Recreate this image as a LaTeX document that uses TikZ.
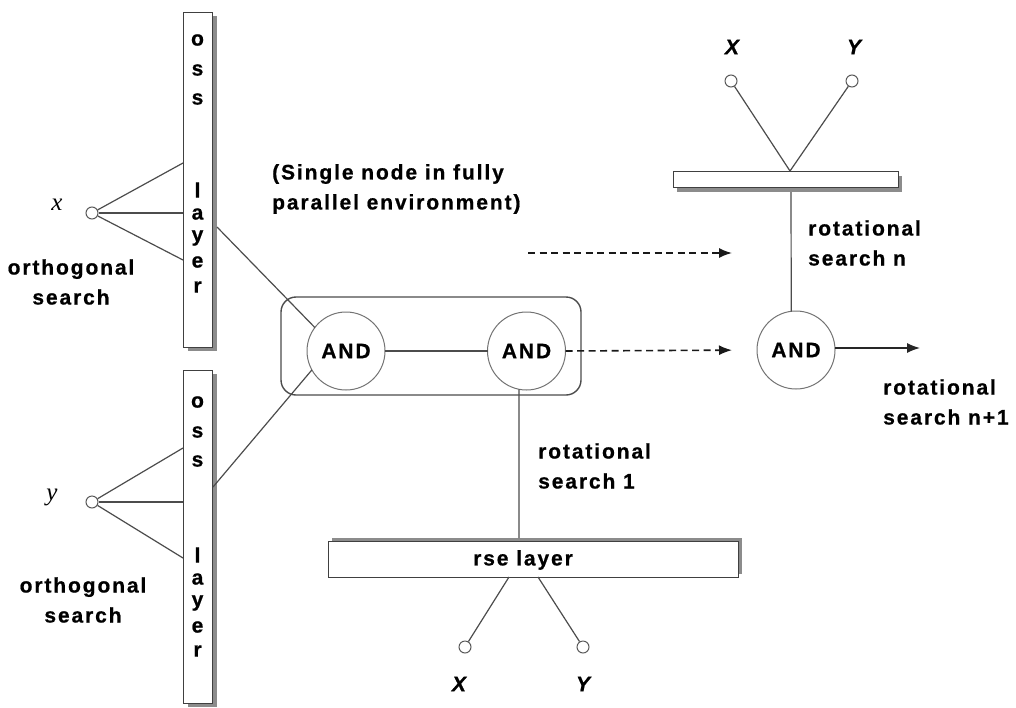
\documentclass[tikz,border=0pt]{standalone}
\usepackage{fontspec}
\setmainfont{Liberation Sans}
\newfontfamily\lblfam{Liberation Sans}[LetterSpace=9,
  BoldFeatures={FakeBold=0.7}, BoldItalicFeatures={FakeBold=0.7}]
\newfontfamily\serfam{Liberation Serif}
\usetikzlibrary{arrows.meta,shadows}

\tikzset{
  wire/.style={draw=black!70, line width=1.2pt},
  dashwire/.style={draw=black!90, line width=1.6pt, dash pattern=on 7pt off 4.5pt,
                   -{Latex[length=13pt,width=10pt]}},
  arrowwire/.style={draw=black!85, line width=1.4pt, -{Latex[length=13pt,width=10pt]}},
  lbl/.style={font=\lblfam\bfseries\fontsize{21}{30}\selectfont, inner sep=0pt, align=left, text=black},
  clbl/.style={lbl, align=center},
  varlbl/.style={font=\serfam\itshape\fontsize{25}{25}\selectfont, inner sep=0pt},
  inlbl/.style={font=\lblfam\bfseries\itshape\fontsize{21}{21}\selectfont, inner sep=0pt},
  andnode/.style={circle, draw=black!55, line width=1pt, fill=white, minimum size=78pt,
                  inner sep=0pt, outer sep=0pt, font=\lblfam\bfseries\fontsize{21}{21}\selectfont},
  innode/.style={circle, draw=black!65, line width=1pt, fill=white, minimum size=12pt, inner sep=0pt},
  layerbar/.style={rectangle, draw=black!75, line width=1pt, fill=white, inner sep=0pt, outer sep=0pt},
  barletter/.style={font=\lblfam\bfseries\fontsize{21}{21}\selectfont, inner sep=0pt},
  group/.style={rectangle, rounded corners=15pt, draw=black!70, line width=1.4pt,
                minimum width=300pt, minimum height=98pt, inner sep=0pt}
}

\begin{document}
\begin{tikzpicture}[x=1pt, y=-1pt]
\useasboundingbox (0,0) rectangle (1016,707);

% ---- orthogonal search layers (vertical bars) ----
\node[layerbar, minimum width=29pt, minimum height=335pt,
      drop shadow={shadow xshift=5pt, shadow yshift=-4pt, fill=black!45, opacity=1}]
      (ossA) at (197.5,179.5) {};
\node[layerbar, minimum width=29pt, minimum height=333pt,
      drop shadow={shadow xshift=5pt, shadow yshift=-4pt, fill=black!45, opacity=1}]
      (ossB) at (197.5,536.5) {};
\foreach \l/\yy [count=\i] in {o/40, s/70, s/99, l/190, a/214, y/238, e/262, r/287}
  \node[barletter] (ossAl\i) at (197.5,\yy) {\l};
\foreach \l/\yy [count=\i] in {o/402, s/432, s/461, l/555, a/579, y/603, e/627, r/651}
  \node[barletter] (ossBl\i) at (197.5,\yy) {\l};

% ---- inputs of the orthogonal layers ----
\node[innode] (xin) at (92,213) {};
\node[innode] (yin) at (92,502) {};
\node[varlbl] (xlab) at (57,205) {x};
\node[varlbl] (ylab) at (52,497) {y};
\coordinate (ossA1) at (183,163);
\coordinate (ossA2) at (183,213);
\coordinate (ossA3) at (183,260);
\coordinate (ossB1) at (183,448);
\coordinate (ossB2) at (183,502);
\coordinate (ossB3) at (183,558);
\draw[wire] (xin) -- (ossA1);
\draw[wire] (xin) -- (ossA2);
\draw[wire] (xin) -- (ossA3);
\draw[wire] (yin) -- (ossB1);
\draw[wire] (yin) -- (ossB2);
\draw[wire] (yin) -- (ossB3);
\node[clbl] (orthA) at (71,282) {orthogonal\\search};
\node[clbl] (orthB) at (83,600) {orthogonal\\search};

% ---- single node group ----
\node[group] (grp) at (431,346) {};
\node[andnode] (and1) at (346,351) {AND};
\node[andnode] (and2) at (526.5,351) {AND};
\node[lbl, anchor=west] (single) at (272,189) {(Single node in fully\\parallel environment)};
\coordinate (ossAout) at (217,227);
\coordinate (ossBout) at (213,487);
\draw[wire] (ossAout) -- (and1.143);
\draw[wire] (ossBout) -- (and1.209);
\draw[wire] (and1) -- (and2);

% ---- rotational search layer n ----
\node[andnode] (and3) at (796,350) {AND};
\node[layerbar, minimum width=225pt, minimum height=16pt,
      drop shadow={shadow xshift=4pt, shadow yshift=-5pt, fill=black!45, opacity=1}]
      (topbar) at (785.5,179) {};
\node[innode] (xt) at (731,81) {};
\node[innode] (yt) at (852,81) {};
\node[inlbl] (xtlab) at (732,47) {X};
\node[inlbl] (ytlab) at (854,47) {Y};
\coordinate (tbin) at (790,171);
\coordinate (tbout) at (791,192);
\draw[wire] (xt) -- (tbin);
\draw[wire] (yt) -- (tbin);
\draw[wire] (tbout) -- (and3.97);
\node[lbl, anchor=west] (rsn) at (808,243) {rotational\\search n};

\coordinate (dashstart) at (528,253);
\coordinate (dashend) at (732,253);
\draw[dashwire] (dashstart) -- (dashend);
\draw[dashwire, shorten >=25pt] (and2.east) -- (and3.west);

\coordinate (outend) at (920,348);
\draw[arrowwire] (and3.east |- outend) -- (outend);
\node[lbl, anchor=west] (rsn1) at (883,402) {rotational\\search n+1};

% ---- rotational search layer 1 ----
\node[layerbar, minimum width=410pt, minimum height=36pt,
      drop shadow={shadow xshift=4pt, shadow yshift=3pt, fill=black!45, opacity=1}]
      (rsebar) at (533,559) {};
\node[lbl] (rsetxt) at (523,560) {rse layer};
\coordinate (rsetop) at (519,538);
\draw[wire] (and2.259) -- (rsetop);
\node[lbl, anchor=west] (rs1) at (538,466) {rotational\\search 1};
\node[innode] (xb) at (465,647) {};
\node[innode] (yb) at (583,647) {};
\node[inlbl] (xblab) at (459,684) {X};
\node[inlbl] (yblab) at (583,684) {Y};
\coordinate (rseo1) at (509,577);
\coordinate (rseo2) at (538,577);
\draw[wire] (rseo1) -- (xb);
\draw[wire] (rseo2) -- (yb);
\end{tikzpicture}
\end{document}
